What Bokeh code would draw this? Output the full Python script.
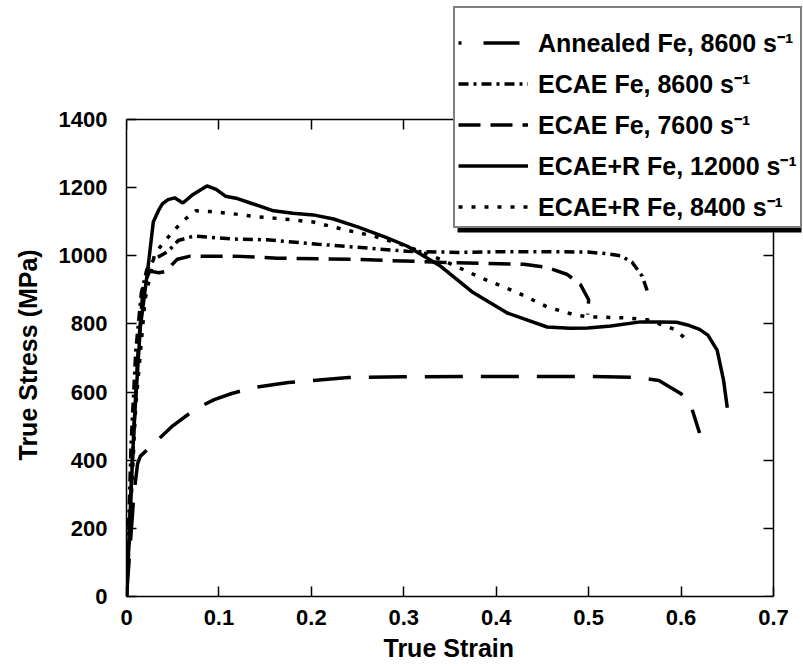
from bokeh.plotting import figure
from bokeh.models import (Legend, LegendItem, LinearAxis, FixedTicker, Range1d,
                          CustomJSTickFormatter, BoxAnnotation, Title)
from bokeh.embed import file_html
from bokeh.resources import INLINE

# ---------------- data ----------------
x_ticks = [0, 0.1, 0.2, 0.3, 0.4, 0.5, 0.6, 0.7]
x_tick_labels = ["0", "0.1", "0.2", "0.3", "0.4", "0.5", "0.6", "0.7"]
y_ticks = [0, 200, 400, 600, 800, 1000, 1200, 1400]
y_tick_labels = ["0", "200", "400", "600", "800", "1000", "1200", "1400"]
x_max = 0.7
y_max = 1400
x_title = "True Strain"
y_title = "True Stress (MPa)"

annealed_strain = [0, 0.004, 0.008, 0.012, 0.015, 0.03, 0.05, 0.075, 0.095, 0.113, 0.137,
                   0.175, 0.202, 0.24, 0.3, 0.4, 0.5, 0.553, 0.576, 0.6, 0.61, 0.62]
annealed_stress = [0, 150, 300, 390, 412, 450, 501, 551, 578, 595, 613,
                   628, 634, 643, 645, 646, 646, 643, 634, 595, 566, 480]

ecae8600_strain = [0, 0.005, 0.01, 0.016, 0.022, 0.03, 0.045, 0.056, 0.073, 0.116, 0.152,
                   0.207, 0.25, 0.304, 0.36, 0.412, 0.46, 0.499, 0.52, 0.535, 0.547, 0.558, 0.564]
ecae8600_stress = [0, 450, 720, 890, 960, 990, 1013, 1045, 1058, 1049, 1047,
                   1034, 1025, 1013, 1010, 1012, 1012, 1011, 1006, 1000, 981, 940, 892]

ecae7600_strain = [0, 0.006, 0.012, 0.018, 0.025, 0.035, 0.042, 0.055, 0.069, 0.116, 0.163,
                   0.242, 0.34, 0.43, 0.455, 0.477, 0.491, 0.5, 0.499]
ecae7600_stress = [0, 380, 700, 909, 955, 950, 954, 990, 999, 999, 993,
                   990, 981, 975, 966, 945, 916, 871, 827]

ecaer12000_strain = [0, 0.008, 0.015, 0.023, 0.029, 0.035, 0.039, 0.045, 0.052, 0.061, 0.072,
                     0.087, 0.097, 0.107, 0.12, 0.134, 0.159, 0.18, 0.202, 0.224, 0.25, 0.28,
                     0.304, 0.34, 0.375, 0.412, 0.455, 0.48, 0.499, 0.524, 0.556, 0.578, 0.595,
                     0.607, 0.62, 0.629, 0.639, 0.646, 0.65]
ecaer12000_stress = [0, 495, 791, 960, 1099, 1135, 1153, 1165, 1170, 1155, 1180,
                     1205, 1195, 1175, 1168, 1155, 1132, 1125, 1120, 1108, 1085, 1055,
                     1028, 969, 892, 832, 791, 787, 788, 794, 806, 806, 805,
                     797, 784, 767, 723, 634, 554]

ecaer8400_strain = [0, 0.01, 0.02, 0.03, 0.036, 0.048, 0.061, 0.075, 0.09, 0.116, 0.14, 0.17,
                    0.202, 0.232, 0.267, 0.304, 0.347, 0.383, 0.423, 0.455, 0.484, 0.499,
                    0.538, 0.564, 0.592, 0.607]
ecaer8400_stress = [0, 560, 870, 1000, 1025, 1064, 1102, 1132, 1130, 1123, 1115, 1108,
                    1099, 1079, 1058, 1028, 981, 936, 892, 850, 827, 821,
                    818, 812, 785, 753]

labels = ["Annealed Fe, 8600 s\u207b\u00b9", "ECAE Fe, 8600 s\u207b\u00b9",
          "ECAE Fe, 7600 s\u207b\u00b9", "ECAE+R Fe, 12000 s\u207b\u00b9",
          "ECAE+R Fe, 8400 s\u207b\u00b9"]

# ---------------- layout constants (pixels) ----------------
FONT = "Liberation Sans"
W, H = 803, 667
LEFT, BOTTOM = 126, 71
PLOT_W_PX, PLOT_H_PX = 647, 477          # size of the 0..0.7 x 0..1400 box
FRAME_W, FRAME_H = W - LEFT, H - BOTTOM  # frame reaches the top/right edge (room for legend)
x_end = x_max * FRAME_W / PLOT_W_PX
y_end = y_max * FRAME_H / PLOT_H_PX

p = figure(width=W, height=H, output_backend="svg", toolbar_location=None,
           x_range=Range1d(0, x_end), y_range=Range1d(0, y_end),
           min_border_left=LEFT, min_border_right=0, min_border_top=0,
           min_border_bottom=BOTTOM,
           background_fill_color="white", border_fill_color="white")
p.grid.visible = False
p.outline_line_color = None

for ax in (p.xaxis[0], p.yaxis[0]):
    ax.major_tick_in = 10
    ax.major_tick_out = 0
    ax.minor_tick_line_color = None
    ax.axis_line_width = 1.5
    ax.major_tick_line_width = 1.5
    ax.major_label_text_font = FONT
    ax.major_label_text_font_style = "bold"
    ax.major_label_text_font_size = "22px"
    ax.major_label_text_color = "black"

p.xaxis[0].ticker = FixedTicker(ticks=x_ticks)
p.xaxis[0].major_label_overrides = dict(zip(x_ticks, x_tick_labels))
p.xaxis[0].major_label_standoff = 13
p.xaxis[0].bounds = (0, x_max)

p.yaxis[0].ticker = FixedTicker(ticks=y_ticks)
p.yaxis[0].major_label_overrides = dict(zip(y_ticks, y_tick_labels))
p.yaxis[0].major_label_standoff = 19
p.yaxis[0].bounds = (0, y_max)

# axis titles, centred on the 0..0.7 / 0..1400 box rather than on the whole frame
p.add_layout(Title(text=x_title, align="left", offset=257, vertical_align="bottom",
                   standoff=9, text_font=FONT, text_font_style="bold",
                   text_font_size="25px", text_color="black"), "below")
p.add_layout(Title(text=y_title, align="left", offset=136, vertical_align="top",
                   standoff=24, text_font=FONT, text_font_style="bold",
                   text_font_size="25px", text_color="black"), "left")

empty = CustomJSTickFormatter(code="return ''")
right_ax = LinearAxis(ticker=FixedTicker(ticks=y_ticks), formatter=empty,
                      fixed_location=x_max, bounds=(0, y_max),
                      major_tick_in=10, major_tick_out=0, minor_tick_line_color=None,
                      axis_line_width=1.5, major_tick_line_width=1.5, major_label_standoff=0)
top_ax = LinearAxis(ticker=FixedTicker(ticks=x_ticks), formatter=empty,
                    fixed_location=y_max, bounds=(0, x_max),
                    major_tick_in=10, major_tick_out=0, minor_tick_line_color=None,
                    axis_line_width=1.5, major_tick_line_width=1.5, major_label_standoff=0)
p.add_layout(right_ax, "right")
p.add_layout(top_ax, "above")

LW = 3.5
r1 = p.line(annealed_strain, annealed_stress, line_color="black", line_width=LW,
            line_dash="38 18")
r2 = p.line(ecae8600_strain, ecae8600_stress, line_color="black", line_width=LW,
            line_dash="10 5 3 5")
r3 = p.line(ecae7600_strain, ecae7600_stress, line_color="black", line_width=LW,
            line_dash="22 10")
r4 = p.line(ecaer12000_strain, ecaer12000_stress, line_color="black", line_width=LW)
r5 = p.line(ecaer8400_strain, ecaer8400_stress, line_color="black", line_width=LW,
            line_dash="4 9")
# key sample for the annealed curve (dot + long dash, as drawn in the key)
r1_key = p.line(annealed_strain, annealed_stress, line_color="black", line_width=LW,
                line_dash="3 22 36 22", visible=False)

LEG_X, LEG_Y, LEG_W, LEG_H = 327, 368, 344, 216
shadow = BoxAnnotation(left=LEG_X + 4, right=LEG_X + LEG_W + 4,
                       bottom=LEG_Y - 4, top=LEG_Y + LEG_H - 4,
                       left_units="screen", right_units="screen",
                       bottom_units="screen", top_units="screen",
                       fill_color="black", fill_alpha=1, line_color=None)
p.add_layout(shadow)

legend = Legend(items=[LegendItem(label=l, renderers=[r]) for l, r in
                       zip(labels, [r1_key, r2, r3, r4, r5])],
                location=(LEG_X, LEG_Y),
                title=" ", title_text_font_size="12px", title_standoff=0,
                label_text_font=FONT, label_text_font_style="bold",
                label_text_font_size="25px", label_text_color="black",
                glyph_width=70, glyph_height=33, label_height=33, spacing=7,
                padding=3, margin=0, label_standoff=10,
                border_line_color="black", border_line_width=2,
                background_fill_color="white", background_fill_alpha=1)
p.add_layout(legend)

open("out.html", "w").write(file_html(p, INLINE))
